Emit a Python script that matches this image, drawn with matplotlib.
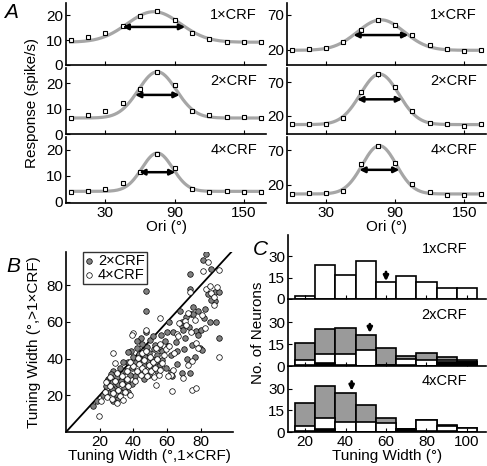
import matplotlib.pyplot as plt
import numpy as np

plt.rcParams['font.family'] = ['Liberation Sans', 'DejaVu Sans']
plt.rcParams['font.size'] = 10
plt.rcParams['xtick.direction'] = 'in'
plt.rcParams['ytick.direction'] = 'in'
plt.rcParams['axes.linewidth'] = 1.2

# ---------------- panel A data ----------------
ori = np.arange(0, 180, 15)

resp_left = [
    [10.0, 11.3, 12.8, 15.6, 19.6, 21.6, 18.1, 13.1, 10.6, 9.4, 9.4, 9.4],
    [6.4, 7.4, 9.0, 12.2, 17.8, 24.5, 19.4, 9.0, 7.3, 6.6, 6.6, 6.4],
    [3.6, 4.1, 4.8, 7.1, 11.4, 18.5, 12.9, 4.9, 3.9, 4.3, 3.9, 3.9],
]
resp_right = [
    [20.0, 21.4, 22.4, 31.9, 48.6, 62.9, 55.7, 41.0, 27.1, 21.4, 19.0, 20.0],
    [7.5, 8.5, 8.5, 17.5, 55.0, 81.5, 63.5, 27.5, 10.0, 7.5, 5.0, 8.5],
    [7.1, 8.1, 9.0, 11.9, 49.5, 76.2, 51.9, 21.4, 10.5, 5.7, 5.7, 7.1],
]
err_right = [
    [0.5, 0.5, 0.5, 1.0, 3.0, 3.0, 3.0, 1.5, 1.0, 0.5, 0.5, 0.5],
    [0.5, 0.5, 0.5, 1.0, 3.0, 3.5, 3.0, 2.0, 1.0, 0.5, 0.5, 0.5],
    [0.5, 0.5, 0.5, 1.0, 2.5, 3.0, 2.5, 1.5, 1.0, 0.5, 0.5, 0.5],
]
# gaussian fits: baseline, amplitude, center, sigma
fit_left = [[9.2, 12.3, 72, 23.0], [6.3, 18.2, 75, 16.4], [4.0, 14.8, 75, 13.3]]
fit_right = [[19.5, 43.5, 77.6, 20.3], [7.0, 75.0, 76.5, 16.6], [7.0, 69.5, 76.3, 14.8]]
cond_labels = ['1×CRF', '2×CRF', '4×CRF']
ylim_left = [(0, 25), (0, 26), (-0.5, 25)]
ylim_right = [(-1.5, 87), (-7, 91), (-6, 89)]

# ---------------- panel B data ----------------
w2_x = [83.2, 81.3, 86.2, 73.8, 73.8, 88.2, 90.7, 88.2, 47.7, 47.3, 67.5, 74.0, 75.5, 71.4,
        78.3, 82.2, 85.6, 61.1, 68.5, 63.5, 69.4, 73.0, 77.3, 80.3, 78.3, 70.4, 60.0, 90.5,
        74.4, 79.3, 80.5, 76.3, 68.5, 73.4, 62.5, 84.0, 86.0, 82.0, 89.0, 75.0, 69.0,
        38.5, 40.0, 41.5, 42.0, 43.0, 44.0, 45.0, 45.5, 46.0, 47.0, 48.0, 48.5, 49.0, 50.0,
        50.5, 51.0, 52.0, 52.5, 53.0, 54.0, 55.0, 55.5, 56.6, 57.0, 58.6, 60.6, 51.7, 47.7,
        44.5, 42.0, 65.0, 66.0, 62.0, 70.0, 72.0, 66.0, 57.0, 59.0, 54.0, 49.0, 44.0, 41.0,
        46.0, 39.0, 37.0, 31.0, 28.0, 63.0,
        16.2, 18.1, 22.0, 24.0, 25.0, 26.0, 27.0, 28.0, 29.0, 30.0, 31.0, 32.0, 33.0, 34.0,
        35.0, 35.5, 36.9, 37.0, 38.0, 39.0, 29.5, 26.5, 33.5, 36.0, 24.5, 27.5, 32.5, 34.5]
w2_y = [96.8, 93.5, 88.5, 85.8, 77.8, 76.4, 76.4, 71.5, 76.9, 66.1, 66.1, 64.5, 64.0, 62.8,
        66.1, 66.8, 60.1, 60.1, 57.8, 54.7, 55.6, 57.0, 55.2, 55.6, 52.9, 51.1, 54.7, 51.1,
        47.5, 45.7, 44.5, 41.1, 32.1, 32.1, 32.5, 75.0, 72.0, 62.0, 60.0, 68.0, 60.0,
        44.0, 41.0, 38.0, 46.0, 42.5, 39.5, 48.0, 44.0, 36.0, 41.0, 46.5, 38.5, 43.0, 50.0,
        35.0, 40.0, 45.0, 47.5, 38.0, 42.0, 46.0, 36.5, 52.9, 44.0, 49.3, 46.6, 52.0, 54.7,
        51.0, 49.5, 49.0, 44.0, 42.0, 45.0, 40.0, 37.0, 39.0, 35.0, 33.0, 31.0, 33.0, 30.5,
        29.0, 26.0, 22.0, 18.5, 17.0, 30.5,
        14.0, 16.7, 20.0, 25.0, 29.0, 22.0, 27.0, 33.0, 24.0, 30.0, 26.0, 35.0, 22.0, 29.0,
        33.0, 25.0, 43.8, 38.0, 31.0, 35.0, 20.5, 31.5, 38.0, 27.5, 28.0, 23.5, 27.5, 24.0]
w4_x = [84.2, 81.3, 90.7, 73.8, 82.8, 85.2, 85.8, 89.5, 87.7, 87.7, 72.4, 80.7, 76.3, 55.6,
        67.0, 70.4, 65.9, 71.4, 82.2, 74.0, 66.5, 77.3, 78.0, 90.5, 74.4, 72.4, 69.4, 63.5,
        62.5, 60.5, 53.6, 63.1, 74.4, 76.9, 19.7, 29.0, 39.8, 38.9, 47.7, 28.0,
        40.0, 42.0, 43.5, 44.5, 45.0, 46.5, 47.0, 48.0, 49.0, 50.0, 50.5, 51.5, 52.0, 53.0,
        54.0, 55.0, 56.0, 57.0, 58.0, 59.5, 45.0, 42.5, 47.5, 53.5, 56.0, 61.0, 64.0, 38.0,
        41.0, 36.0,
        21.0, 23.0, 24.5, 26.0, 27.0, 28.0, 29.0, 30.0, 31.0, 32.0, 33.0, 34.0, 35.0, 36.0,
        37.0, 38.0, 26.0, 30.5, 33.0, 24.0]
w4_y = [92.3, 87.8, 88.1, 76.4, 77.7, 79.5, 75.5, 78.8, 73.7, 69.2, 64.7, 63.7, 61.0, 62.0,
        59.6, 60.7, 53.3, 58.3, 56.5, 54.5, 52.0, 48.4, 46.0, 40.8, 38.4, 36.6, 29.4, 33.9,
        31.2, 30.3, 25.8, 22.5, 23.1, 24.0, 8.6, 37.6, 53.8, 52.9, 55.6, 43.0,
        36.0, 33.0, 37.0, 31.0, 35.0, 39.0, 33.0, 30.5, 36.5, 41.0, 33.0, 38.0, 30.0, 35.0,
        40.0, 31.0, 34.0, 37.5, 42.0, 45.0, 43.0, 40.5, 44.0, 45.5, 48.0, 47.0, 43.0, 38.0,
        28.0, 33.0,
        17.0, 22.0, 19.0, 25.0, 18.0, 21.5, 28.0, 16.0, 23.0, 19.5, 26.0, 17.5, 22.0, 29.0,
        25.0, 20.0, 30.0, 32.0, 30.5, 27.0]

# ---------------- panel C data ----------------
bins = np.arange(20, 101, 10)
hist_1x = [2, 24, 17, 27, 12, 16, 12, 8, 8]
hist_2x_all = [16, 25, 26, 21, 12, 7, 9, 6, 4]
hist_2x_white = [4, 8, 8, 11, 1, 5, 4, 4, 3]
hist_2x_black = [1, 2, 1, 0, 1, 1, 0, 3, 3]
hist_4x_all = [20, 32, 27, 19, 10, 2, 8, 5, 3]
hist_4x_white = [4, 10, 7, 7, 6, 2, 8, 4, 3]
hist_4x_black = [1, 2, 0, 0, 0, 2, 1, 1, 0]
medians = [60, 52, 43]

fig = plt.figure(figsize=(4.87, 4.66), dpi=100)
W, H = 487.0, 466.0


def axpx(x0, x1, y0, y1):
    return fig.add_axes([x0 / W, 1 - y1 / H, (x1 - x0) / W, (y1 - y0) / H])


rows = [(3, 65), (68, 134), (137, 203)]
xx = np.linspace(0, 165, 300)
gray_line = '#a6a6a6'
for col, (x0, x1) in enumerate([(66, 266), (287, 486)]):
    resp = resp_left if col == 0 else resp_right
    fits = fit_left if col == 0 else fit_right
    ylims = ylim_left if col == 0 else ylim_right
    for r, (y0, y1) in enumerate(rows):
        ax = axpx(x0, x1, y0, y1)
        b, a, mu, sd = fits[r]
        ax.plot(xx, b + a * np.exp(-(xx - mu) ** 2 / (2 * sd ** 2)), color=gray_line, lw=2.3, zorder=1)
        if col == 1:
            ax.errorbar(ori, resp[r], yerr=err_right[r], fmt='none', ecolor='k', elinewidth=0.8, zorder=2)
        ax.plot(ori, resp[r], 's', ms=3.0, mfc='white', mec='k', mew=0.8, zorder=3)
        hw = sd * np.sqrt(2 * np.log(2))
        ax.annotate('', xy=(mu - hw, b + a / 2), xytext=(mu + hw, b + a / 2),
                    arrowprops=dict(arrowstyle='<|-|>', color='k', lw=1.8, mutation_scale=8,
                                    shrinkA=0, shrinkB=0), zorder=4)
        ax.text(0.955, 0.8, cond_labels[r], transform=ax.transAxes, ha='right', va='center', fontsize=10.5)
        ax.set_xlim(-4, 169)
        ax.set_ylim(ylims[r])
        ax.set_xticks([30, 90, 150])
        if col == 0:
            ax.set_yticks([0, 10, 20])
        else:
            ax.set_yticks([20, 70])
        ax.tick_params(length=3, labelsize=11, pad=2)
        if r < 2:
            ax.set_xticklabels([])
        else:
            ax.set_xlabel('Ori (°)', fontsize=11, labelpad=0)
        ax.spines['top'].set_visible(False)
        ax.spines['right'].set_visible(False)

fig.text(32 / W, 1 - 103 / H, 'Response (spike/s)', rotation=90, ha='center', va='center', fontsize=11)
fig.text(4 / W, 1 - 12 / H, 'A', fontsize=15, style='italic', ha='left', va='center')

# ---------------- panel B ----------------
axb = axpx(66, 233, 252, 432)
axb.plot([0, 100], [0, 100], color='k', lw=1.3, zorder=1)
axb.scatter(w2_x, w2_y, s=16, c='#808080', edgecolors='k', linewidths=0.5, zorder=2, label='2×CRF')
axb.scatter(w4_x, w4_y, s=16, c='white', edgecolors='k', linewidths=0.5, zorder=3, label='4×CRF')
axb.set_xlim(0, 99)
axb.set_ylim(0, 98)
axb.set_xticks([20, 40, 60, 80])
axb.set_yticks([20, 40, 60, 80])
axb.tick_params(length=3, labelsize=11, pad=2)
axb.spines['top'].set_visible(False)
axb.spines['right'].set_visible(False)
axb.set_xlabel('Tuning Width (°,1×CRF)', fontsize=11, labelpad=0)
axb.set_ylabel('Tuning Width (°,>1×CRF)', fontsize=11, labelpad=4)
leg = axb.legend(loc='upper left', bbox_to_anchor=(0.1, 1.0), fontsize=10.5, frameon=True,
                 fancybox=False, edgecolor='k', handlelength=0.6, handletextpad=0.3,
                 borderpad=0.15, labelspacing=0.0, borderaxespad=0, scatterpoints=1)
leg.get_frame().set_linewidth(1.0)
fig.text(6 / W, 1 - 266 / H, 'B', fontsize=15, style='italic', ha='left', va='center')

# ---------------- panel C ----------------
crows = [(235, 299), (300, 366), (367, 432)]
clabels = ['1xCRF', '2xCRF', '4xCRF']
arrow_y = [(19, 12.5), (28.5, 22.5), (35, 28.5)]
for r, (y0, y1) in enumerate(crows):
    ax = axpx(288, 486, y0, y1)
    if r == 0:
        ax.bar(bins, hist_1x, width=10, color='white', edgecolor='k', lw=1.2)
    else:
        tot = hist_2x_all if r == 1 else hist_4x_all
        wh = hist_2x_white if r == 1 else hist_4x_white
        bl = hist_2x_black if r == 1 else hist_4x_black
        ax.bar(bins, tot, width=10, color='#9a9a9a', edgecolor='k', lw=1.2)
        ax.bar(bins, wh, width=10, color='white', edgecolor='k', lw=1.2)
        ax.bar(bins, bl, width=10, color='k', edgecolor='k', lw=1.2)
    ax.annotate('', xy=(medians[r], arrow_y[r][1]), xytext=(medians[r], arrow_y[r][0]),
                arrowprops=dict(arrowstyle='-|>', color='k', lw=2, mutation_scale=7,
                                shrinkA=0, shrinkB=0))
    ax.text(0.79, 0.78, clabels[r], transform=ax.transAxes, ha='center', va='center', fontsize=10.5)
    ax.set_xlim(11.5, 109.5)
    ax.set_ylim(0, 45)
    ax.set_yticks([0, 15, 30])
    ax.set_xticks([20, 40, 60, 80, 100])
    ax.tick_params(length=3, labelsize=11, pad=2)
    ax.spines['top'].set_visible(False)
    ax.spines['right'].set_visible(False)
    if r < 2:
        ax.set_xticklabels([])
    else:
        ax.set_xlabel('Tuning Width (°)', fontsize=11, labelpad=0)

fig.text(258 / W, 1 - 333 / H, 'No. of Neurons', rotation=90, ha='center', va='center', fontsize=11)
fig.text(253 / W, 1 - 250 / H, 'C', fontsize=15, style='italic', ha='left', va='center')

plt.savefig('out.png', dpi=100)
